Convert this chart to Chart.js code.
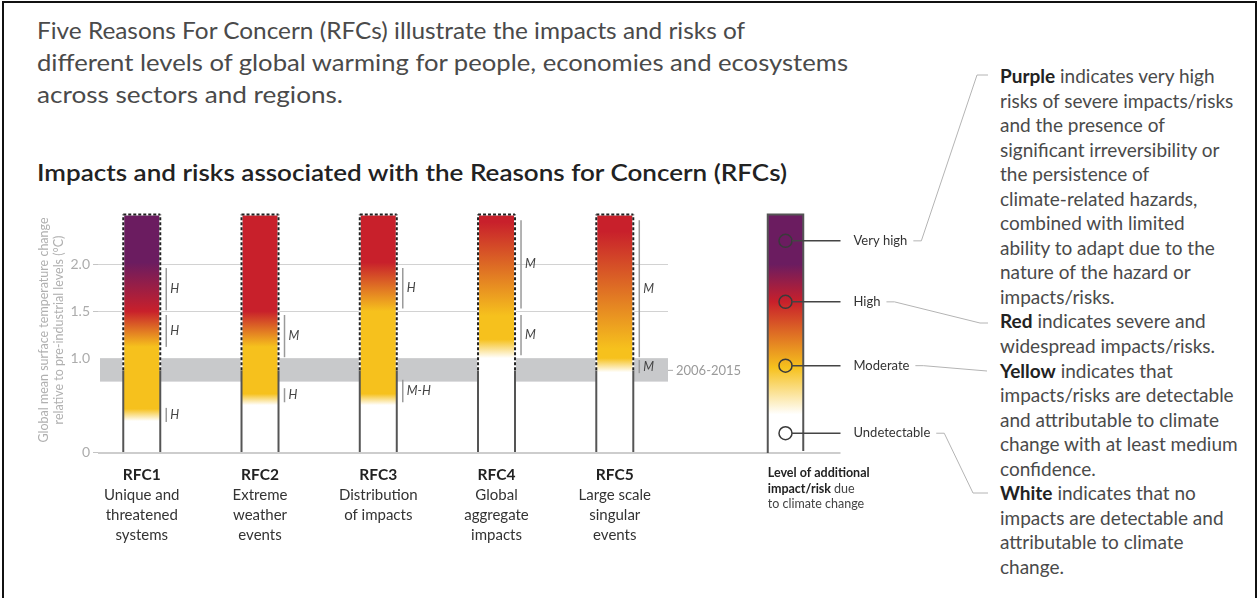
<!DOCTYPE html>
<html>
<head>
<meta charset="utf-8">
<script src="https://cdn.jsdelivr.net/npm/chart.js@4.4.1/dist/chart.umd.min.js"></script>
<style>
  html, body { margin: 0; padding: 0; background: #fff; }
  body { width: 1259px; height: 598px; position: relative; overflow: hidden; font-family: Lato, "Noto Sans", sans-serif; }
  #frame { position: absolute; left: 2px; top: 1px; width: 1255px; height: 620px; border: 2px solid #111; box-sizing: border-box; }
  canvas { position: absolute; left: 0; top: 0; }
  .t { position: absolute; white-space: nowrap; transform-origin: 0 50%; line-height: 30px; }
  .intro { left: 37px; font-size: 23px; color: #4a4a4a; }
  .head { left: 37px; font-size: 23px; color: #222; font-weight: 600; }
  #notes { position: absolute; left: 1000px; top: 64px; font-size: 19px; line-height: 24.55px; color: #4a4a4a; white-space: nowrap; transform-origin: 0 0; }
  #notes b { color: #222; font-weight: 700; }
</style>
</head>
<body>
<div id="frame"></div>
<div class="t intro fit" data-w="708" style="top:15px">Five Reasons For Concern (RFCs) illustrate the impacts and risks of</div>
<div class="t intro fit" data-w="811" style="top:47px">different levels of global warming for people, economies and ecosystems</div>
<div class="t intro fit" data-w="306" style="top:79px">across sectors and regions.</div>
<div class="t head fit" data-w="750" style="top:157px">Impacts and risks associated with the Reasons for Concern (RFCs)</div>
<div id="notes">
<b>Purple</b> indicates very high<br>
risks of severe impacts/risks<br>
and the presence of<br>
significant irreversibility or<br>
the persistence of<br>
climate-related hazards,<br>
combined with limited<br>
ability to adapt due to the<br>
nature of the hazard or<br>
impacts/risks.<br>
<b>Red</b> indicates severe and<br>
widespread impacts/risks.<br>
<b>Yellow</b> indicates that<br>
impacts/risks are detectable<br>
and attributable to climate<br>
change with at least medium<br>
confidence.<br>
<b>White</b> indicates that no<br>
impacts are detectable and<br>
attributable to climate<br>
change.
</div>
<canvas id="rfc" width="1259" height="598"></canvas>
<script>
// Reasons for Concern and their labels
const categories = ["RFC1", "RFC2", "RFC3", "RFC4", "RFC5"];
const descriptions = [
  ["Unique and", "threatened", "systems"],
  ["Extreme", "weather", "events"],
  ["Distribution", "of impacts"],
  ["Global", "aggregate", "impacts"],
  ["Large scale", "singular", "events"],
];
const columnTop = [2.53, 2.53, 2.53, 2.53, 2.53];
const yTicks = [0, 1.0, 1.5, 2.0];
const gridValues = [1.5, 2.0];
const recentWarming = 0.87;
const recentRange = [0.75, 1.0];
const recentLabel = "2006-2015";

// risk level along each column: [°C, level] 0 undetectable, 1 moderate, 2 high, 3 very high
const rfc1Levels = [[0.33, 0], [0.46, 1], [1.12, 1], [1.5, 2], [2.02, 3]];
const rfc2Levels = [[0.5, 0], [0.62, 1], [1.12, 1], [1.5, 2]];
const rfc3Levels = [[0.5, 0], [0.62, 1], [1.5, 1], [2.02, 2]];
const rfc4Levels = [[1.0, 0], [1.2, 1], [1.45, 1], [2.45, 2]];
const rfc5Levels = [[0.85, 0], [1.0, 1], [1.1, 1], [2.35, 2]];
const levelStops = [rfc1Levels, rfc2Levels, rfc3Levels, rfc4Levels, rfc5Levels];

// confidence of each transition: [from °C, to °C, label]
const rfc1Confidence = [[1.51, 1.96, "H"], [1.12, 1.46, "H"], [0.32, 0.47, "H"]];
const rfc2Confidence = [[1.01, 1.46, "M"], [0.53, 0.68, "H"]];
const rfc3Confidence = [[1.53, 1.96, "H"], [0.53, 0.77, "M-H"]];
const rfc4Confidence = [[1.53, 2.47, "M"], [1.03, 1.46, "M"]];
const rfc5Confidence = [[1.01, 2.47, "M"], [0.84, 0.98, "M"]];
const confidence = [rfc1Confidence, rfc2Confidence, rfc3Confidence, rfc4Confidence, rfc5Confidence];

// key
const keyLabels = ["Very high", "High", "Moderate", "Undetectable"];
const keyMarks = [2.25, 1.6, 0.92, 0.2];
const keyLevels = [[0.4, 0], [0.9, 1], [1.6, 2], [2.0, 3]];
const keyTop = 2.53;

const levelColours = ["#ffffff", "#f6c11d", "#c8202b", "#6b1c60"];

function hexRgb(h) {
  return [1, 3, 5].map((i) => parseInt(h.slice(i, i + 2), 16));
}
function levelColour(l) {
  const i = Math.min(Math.floor(l), levelColours.length - 2);
  const f = l - i;
  const a = hexRgb(levelColours[i]), b = hexRgb(levelColours[i + 1]);
  const c = a.map((v, k) => Math.round(v + (b[k] - v) * f));
  return "rgb(" + c.join(",") + ")";
}
function riskGradient(chart, stops, top) {
  const y = chart.scales.y;
  const g = chart.ctx.createLinearGradient(0, y.getPixelForValue(0), 0, y.getPixelForValue(top));
  g.addColorStop(0, levelColour(stops[0][1]));
  stops.forEach(([t, l]) => g.addColorStop(Math.min(t / top, 1), levelColour(l)));
  g.addColorStop(1, levelColour(stops[stops.length - 1][1]));
  return g;
}

const keyOffset = 117.5;
const connectorEnds = [
  [[977, 75], [988, 75]],
  [[980, 323], [988, 323]],
  [[987, 371]],
  [[973, 493], [988, 493]],
];

const decorations = {
  id: "decorations",
  beforeDatasetsDraw(chart) {
    const { ctx, chartArea: a, scales: { y } } = chart;
    ctx.save();
    ctx.fillStyle = "#c8c9cb";
    const bt = y.getPixelForValue(recentRange[1]), bb = y.getPixelForValue(recentRange[0]);
    ctx.fillRect(a.left + 2, bt, a.right - a.left - 2, bb - bt);
    ctx.strokeStyle = "#d2d2d2";
    ctx.lineWidth = 1;
    gridValues.forEach((v) => {
      const p = Math.round(y.getPixelForValue(v)) + 0.5;
      ctx.beginPath(); ctx.moveTo(a.left, p); ctx.lineTo(a.right, p); ctx.stroke();
    });
    ctx.strokeStyle = "#bdbdbd";
    ctx.lineWidth = 1.5;
    const p0 = y.getPixelForValue(0) + 1;
    ctx.beginPath(); ctx.moveTo(a.left, p0); ctx.lineTo(a.right + keyOffset + 55, p0); ctx.stroke();
    ctx.restore();
  },
  afterDatasetsDraw(chart) {
    const { ctx, chartArea: a, scales: { y } } = chart;
    const meta = chart.getDatasetMeta(0);
    const y0 = y.getPixelForValue(0);
    ctx.save();
    meta.data.forEach((bar, i) => {
      const half = bar.width / 2;
      const top = y.getPixelForValue(columnTop[i]);
      const now = y.getPixelForValue(recentWarming);
      [bar.x - half, bar.x + half].forEach((x) => {
        ctx.setLineDash([]);
        ctx.strokeStyle = "#555";
        ctx.lineWidth = 2;
        ctx.beginPath(); ctx.moveTo(x, y0); ctx.lineTo(x, now); ctx.stroke();
        ctx.strokeStyle = "#fff";
        ctx.beginPath(); ctx.moveTo(x, now); ctx.lineTo(x, top); ctx.stroke();
        ctx.strokeStyle = "#222";
        ctx.setLineDash([3, 2]);
        ctx.beginPath(); ctx.moveTo(x, now); ctx.lineTo(x, top); ctx.stroke();
      });
      ctx.setLineDash([]);
      ctx.strokeStyle = "#fff";
      ctx.beginPath(); ctx.moveTo(bar.x - half, top); ctx.lineTo(bar.x + half, top); ctx.stroke();
      ctx.strokeStyle = "#222";
      ctx.setLineDash([3, 2]);
      ctx.beginPath(); ctx.moveTo(bar.x - half, top); ctx.lineTo(bar.x + half, top); ctx.stroke();
      ctx.setLineDash([]);

      // confidence brackets
      const bx = bar.x + half + 6;
      confidence[i].forEach(([lo, hi, label]) => {
        ctx.strokeStyle = "#9a9a9a";
        ctx.lineWidth = 1.5;
        ctx.beginPath(); ctx.moveTo(bx, y.getPixelForValue(lo)); ctx.lineTo(bx, y.getPixelForValue(hi)); ctx.stroke();
        ctx.fillStyle = "#444";
        ctx.font = "italic 12.5px Lato";
        ctx.textAlign = "left";
        ctx.textBaseline = "middle";
        ctx.fillText(label, bx + 4, y.getPixelForValue((lo + hi) / 2));
      });

      // category labels
      ctx.textAlign = "center";
      ctx.textBaseline = "middle";
      ctx.fillStyle = "#222";
      ctx.font = "bold 15.5px Lato";
      ctx.fillText(categories[i], bar.x, y0 + 23);
      ctx.fillStyle = "#333";
      ctx.font = "15px Lato";
      descriptions[i].forEach((line, k) => ctx.fillText(line, bar.x, y0 + 43 + k * 20));
    });

    // recent warming label
    const pr = y.getPixelForValue(recentWarming);
    ctx.strokeStyle = "#aaa";
    ctx.lineWidth = 1;
    ctx.beginPath(); ctx.moveTo(a.right, pr); ctx.lineTo(a.right + 5, pr); ctx.stroke();
    ctx.fillStyle = "#9a9a9a";
    ctx.font = "13px Lato";
    ctx.textAlign = "left";
    ctx.textBaseline = "middle";
    ctx.fillText(recentLabel, a.right + 8, pr);

    // key column
    const kx = a.right + keyOffset;
    const kw = 35.5;
    const kt = y.getPixelForValue(keyTop);
    ctx.fillStyle = riskGradient(chart, keyLevels, keyTop);
    ctx.fillRect(kx - kw / 2, kt, kw, y0 - kt);
    ctx.strokeStyle = "#555";
    ctx.lineWidth = 2;
    ctx.beginPath();
    ctx.moveTo(kx - kw / 2, y0 + 1); ctx.lineTo(kx - kw / 2, kt);
    ctx.lineTo(kx + kw / 2, kt); ctx.lineTo(kx + kw / 2, y0 - 1);
    ctx.stroke();
    keyLabels.forEach((label, i) => {
      const py = y.getPixelForValue(keyMarks[i]);
      ctx.strokeStyle = "#3a3a3a";
      ctx.lineWidth = 1.5;
      ctx.beginPath(); ctx.arc(kx, py, 6.5, 0, Math.PI * 2);
      if (i === keyLabels.length - 1) { ctx.fillStyle = "#fff"; ctx.fill(); }
      ctx.stroke();
      ctx.strokeStyle = "#444";
      ctx.beginPath(); ctx.moveTo(kx + 6.5, py); ctx.lineTo(kx + 55, py); ctx.stroke();
      ctx.fillStyle = "#333";
      ctx.font = "13px Lato";
      ctx.textAlign = "left";
      ctx.textBaseline = "middle";
      ctx.fillText(label, kx + 68, py);
      const end = kx + 68 + ctx.measureText(label).width + 6;
      ctx.strokeStyle = "#b4b4b4";
      ctx.lineWidth = 1;
      ctx.beginPath(); ctx.moveTo(end, py);
      ctx.lineTo(end + 8, py);
      connectorEnds[i].forEach(([cx, cy]) => ctx.lineTo(cx, cy));
      ctx.stroke();
    });
    ctx.textAlign = "left";
    ctx.fillStyle = "#222";
    ctx.font = "bold 12.5px Lato";
    const cl = kx - kw / 2;
    ctx.fillText("Level of additional", cl, y0 + 21);
    ctx.fillText("impact/risk", cl, y0 + 37);
    const w = ctx.measureText("impact/risk ").width;
    ctx.fillStyle = "#444";
    ctx.font = "12.5px Lato";
    ctx.fillText("due", cl + w, y0 + 37);
    ctx.fillText("to climate change", cl, y0 + 52);
    ctx.restore();
  },
};

new Chart(document.getElementById("rfc"), {
  type: "bar",
  data: {
    datasets: [{
      data: categories.map((c, i) => ({ x: i + 1, y: [0, columnTop[i]] })),
      backgroundColor: (c) => c.chart.chartArea
        ? riskGradient(c.chart, levelStops[c.dataIndex], columnTop[c.dataIndex])
        : "#fff",
      borderWidth: 0,
      barThickness: 37,
    }],
  },
  options: {
    responsive: false,
    animation: false,
    devicePixelRatio: 1,
    layout: { padding: { left: 36, top: 208, right: 591, bottom: 146 } },
    plugins: { legend: { display: false }, tooltip: { enabled: false } },
    scales: {
      x: { type: "linear", min: 0.63, max: 5.45, offset: false, grid: { offset: false }, display: false },
      y: {
        min: 0,
        max: 2.6,
        afterBuildTicks: (s) => { s.ticks = yTicks.map((v) => ({ value: v })); },
        afterFit: (s) => { s.width = 62; },
        border: { display: false },
        grid: {
          drawOnChartArea: false,
          tickLength: 5,
          tickColor: (c) => (c.tick && c.tick.value === 1 ? "rgba(0,0,0,0)" : "#c4c4c4"),
        },
        ticks: {
          color: "#acacac",
          font: { family: "Lato", size: 14 },
          padding: 3,
          callback: (v) => (v === 0 ? "0" : v.toFixed(1)),
        },
        title: {
          display: true,
          text: ["Global mean surface temperature change", "relative to pre-industrial levels (°C)"],
          color: "#b0b0b0",
          font: { family: "Lato", size: 12.5 },
          padding: { top: 0, bottom: 0 },
        },
      },
    },
  },
  plugins: [decorations],
});

document.querySelectorAll(".fit").forEach((el) => {
  const w = el.getBoundingClientRect().width;
  el.style.transform = "scaleX(" + (+el.dataset.w / w) + ")";
});
</script>
</body>
</html>
